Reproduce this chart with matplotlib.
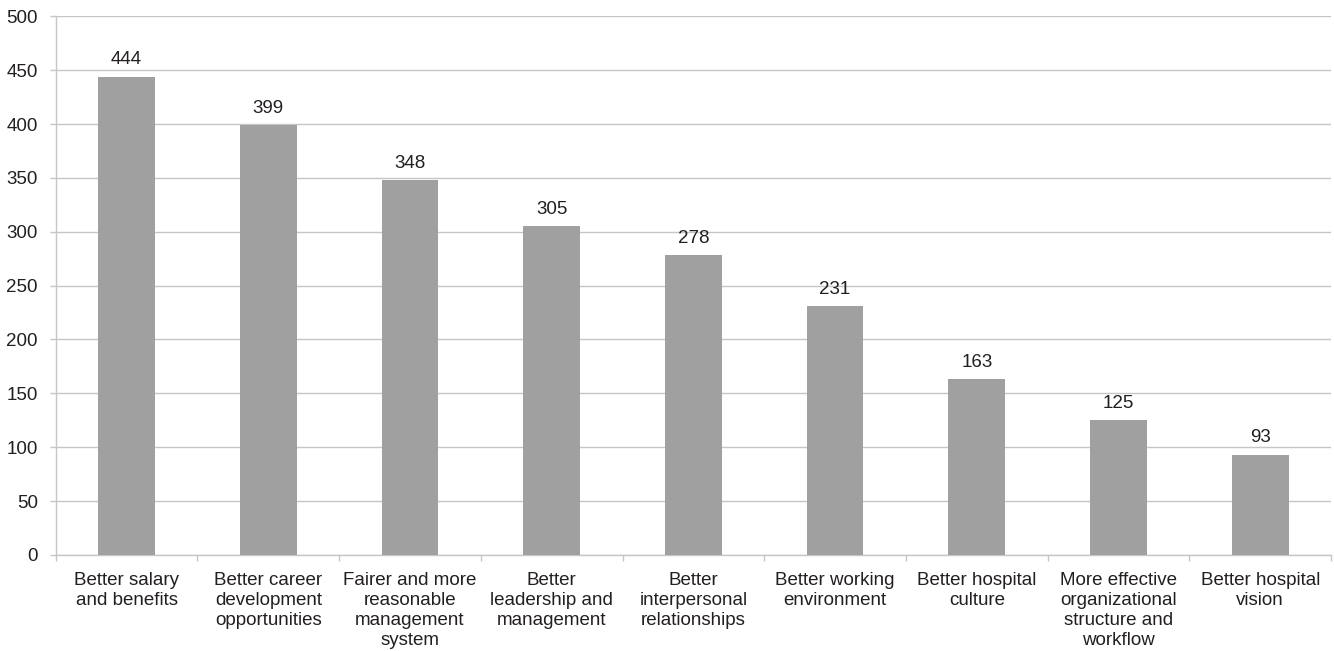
import matplotlib
matplotlib.use("Agg")
import matplotlib.pyplot as plt
import numpy as np

plt.rcParams['font.family'] = ['Liberation Sans', 'DejaVu Sans']

categories = [
    "Better salary\nand benefits",
    "Better career\ndevelopment\nopportunities",
    "Fairer and more\nreasonable\nmanagement\nsystem",
    "Better\nleadership and\nmanagement",
    "Better\ninterpersonal\nrelationships",
    "Better working\nenvironment",
    "Better hospital\nculture",
    "More effective\norganizational\nstructure and\nworkflow",
    "Better hospital\nvision",
]
counts = [444, 399, 348, 305, 278, 231, 163, 125, 93]
y_ticks = [0, 50, 100, 150, 200, 250, 300, 350, 400, 450, 500]

text_color = "#231f20"
bar_color = "#a0a0a0"
grid_color = "#c6c6c6"
fs = 13.5

fig = plt.figure(figsize=(13.34, 6.51), dpi=100)
ax = fig.add_axes([0.0418, 0.1475, 0.9560, 0.8275])

x = np.arange(len(categories))
bars = ax.bar(x, counts, width=0.4, color=bar_color, zorder=3)

for xi, v in zip(x, counts):
    ax.annotate(str(v), (xi, v), xytext=(0, 6), textcoords="offset points",
                ha="center", va="bottom", fontsize=fs, color=text_color)

ax.set_xlim(-0.5, len(categories) - 0.5)
ax.set_ylim(0, 500)
ax.set_yticks(y_ticks)
ax.set_yticklabels([str(t) for t in y_ticks])
ax.yaxis.grid(True, color=grid_color, linewidth=1, zorder=0)

ax.set_xticks(x)
ax.set_xticklabels(categories, fontsize=fs, color=text_color, linespacing=1.23)
ax.set_xticks(np.arange(len(categories) + 1) - 0.5, minor=True)
ax.tick_params(axis="x", which="major", length=0, pad=12)
ax.tick_params(axis="x", which="minor", length=4, color=grid_color, width=1)
ax.tick_params(axis="y", length=4, color=grid_color, width=1, pad=9,
               labelsize=fs, labelcolor=text_color)

for side in ("top", "right"):
    ax.spines[side].set_visible(False)
for side in ("left", "bottom"):
    ax.spines[side].set_color(grid_color)
    ax.spines[side].set_linewidth(1)

fig.savefig("out.png", dpi=100)
